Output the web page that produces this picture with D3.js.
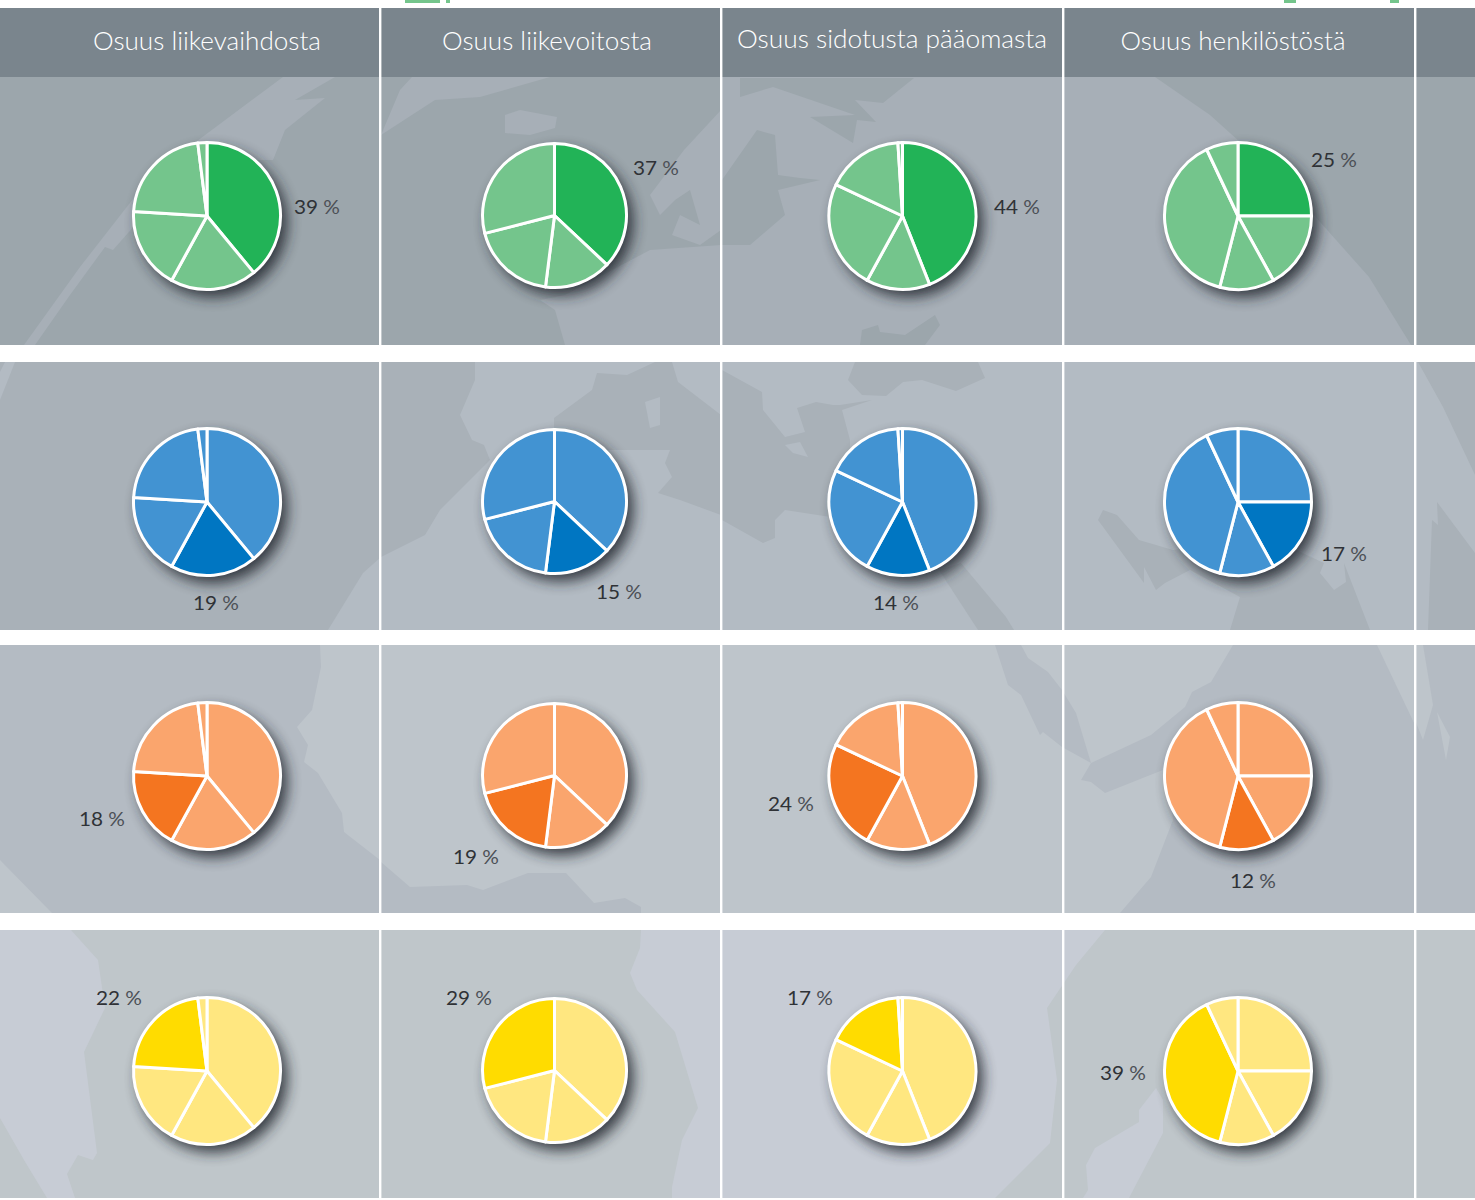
<!DOCTYPE html>
<html><head><meta charset="utf-8">
<script src="https://cdn.jsdelivr.net/npm/d3@7"></script>
<style>html,body{margin:0;padding:0;background:#fff}svg{display:block}</style>
</head><body><svg id="c" width="1475" height="1200"></svg>
<script>
// ---- data ----
const headers = ["Osuus liikevaihdosta","Osuus liikevoitosta","Osuus sidotusta pääomasta","Osuus henkilöstöstä"];
const shares = [
  [39,19,18,22,2],
  [37,15,19,29,0],
  [44,14,24,17,1],
  [25,17,12,39,7]
];
const highlight = ["#22b357","#0076c2","#f47520","#ffdc00"];
const muted     = ["#74c58c","#4293d2","#faa56d","#ffe780"];
// ---- layout ----
const W = 1475;
const colCx = [207,554.5,902.5,1238];
const colR  = [73.5,72,73.5,73.5];
const rowCy = [216,502,776,1071];
const dividers = [380,721,1063,1415];
const headerBox = {y:8,h:69};
const headerPlace = [[207,50,228],[547,50,210],[892,48,310],[1233,50,225]];
const bands = [[8,345],[362,630],[645,913],[930,1198]];
const bandBase  = ["#9ca6ac","#a9b1b8","#b4bbc3","#bfc6ca"];
const bandLight = ["#a7afb7","#b3bbc3","#bec5cb","#c7ccd5"];
// label anchors [x, baseline], by row then column
const labelAt = [
  [[294,213.5],[633,174.5],[994,213.5],[1311,166.5]],
  [[193,609.5],[596,598.5],[873,609.5],[1321,560.5]],
  [[79,825.5],[453,863.5],[768,810.5],[1230,887.5]],
  [[96,1004.5],[446,1004.5],[787,1004.5],[1100,1079.5]]
];
// background map: per band, polygons as [shade, points] with shade 0=base 1=light
const mapShapes = [
 // row 1
 [[1,"24,345 80,267 140,190 189,147 283,77 335,77 295,100 325,98 285,130 273,160 200,160 135,225 113,250 105,247 70,295 35,345"],
  [1,"381,135 400,90 412,77 550,77 480,97 435,100 381,135"],
  [1,"505,115 520,110 557,117 555,128 530,135 505,133"],
  [1,"565,345 555,310 540,300 565,295 650,250 721,245 721,345"],
  [1,"721,110 684,150 650,195 660,215 675,200 690,190 700,225 680,215 672,235 700,245 721,230"],
  [1,"722,77 1155,77 1210,115 1260,160 1312,213 1369,277 1411,345 722,345"],
  [0,"740,97 773,87 855,115 810,117 853,143 857,120 876,122 855,100 883,103 914,78 740,78"],
  [0,"722,180 757,130 775,135 778,175 800,178 820,180 778,190 785,215 750,245 722,245"],
  [0,"860,345 862,330 878,325 880,332 905,335 935,315 940,325 925,345"]],
 // row 2
 [[1,"0,400 15,362 5,362 0,372"],
  [1,"328,630 363,573 381,557 381,630"],
  [1,"381,557 425,535 440,510 470,480 490,460 484,445 472,440 460,415 475,380 475,362 721,362 721,630 381,630"],
  [1,"722,362 1475,362 1475,630 722,630"],
  [0,"554,430 554,418 592,390 597,373 627,375 655,362 672,362 678,382 721,415 721,515 680,500 658,493 672,477 665,463 670,450 600,450"],
  [1,"645,402 660,397 660,425 650,428"],
  [0,"722,370 762,392 763,410 785,437 805,432 797,408 816,402 833,405 840,405 872,400 842,410 850,440 850,520 785,510 775,520 775,538 763,543 722,520"],
  [1,"785,445 800,442 808,457 793,453"],
  [0,"848,380 855,362 978,362 985,378 956,391 922,380 903,382 886,396 862,395"],
  [0,"939,570 961,563 1006,617 1014,630 978,630"],
  [0,"1098,520 1103,510 1117,515 1139,540 1173,550 1250,540 1296,550 1324,563 1320,573 1334,590 1346,582 1344,563 1370,630 1230,630 1240,597 1190,570 1165,583 1156,590 1144,567 1144,583"],
  [0,"1418,362 1475,362 1475,475 1443,407"],
  [0,"1428,630 1432,520 1438,525 1437,502 1475,553 1475,630"]],
 // row 3
 [[1,"320,645 721,645 721,913 381,913 380,860 344,832 342,813 318,773 304,762 308,745 297,727 312,710 321,667"],
  [1,"0,860 52,913 0,913"],
  [0,"381,862 410,887 467,885 483,890 528,873 566,873 594,903 625,898 641,907 641,913 381,913"],
  [1,"722,645 1233,645 1211,682 1192,692 1185,707 1151,735 1091,763 1081,780 1091,782 1105,793 1168,768 1173,820 1151,877 1120,913 722,913"],
  [0,"995,645 1021,645 1028,658 1048,672 1062,690 1076,713 1091,763 1062,747 1043,732 1040,735 1021,695 1008,685"],
  [1,"1377,645 1415,645 1415,725"],
  [1,"1415,645 1423,645 1433,705 1423,740 1415,720"],
  [1,"1437,712 1450,737 1446,760"]],
 // row 4
 [[1,"0,930 71,930 98,960 105,1008 84,1052 97,1153 93,1160 78,1155 67,1174 75,1198 47,1198 24,1160 0,1118"],
  [1,"641,930 640,948 630,973 637,990 675,1032 698,1108 682,1140 672,1187 672,1198 721,1198 721,930"],
  [1,"721,930 1105,930 1076,965 1047,1008 1057,1080 1050,1143 995,1198 721,1198"],
  [1,"1156,1088 1139,1110 1139,1122 1095,1148 1086,1165 1088,1190 1083,1198 1129,1198 1163,1133 1163,1100"]]
];
const topScraps = [[405,35],[446,4],[1284,12],[1390,9]];

const svg = d3.select("#c");
const defs = svg.append("defs");
const f = defs.append("filter").attr("id","sh").attr("x","-40%").attr("y","-40%").attr("width","180%").attr("height","180%");
f.append("feGaussianBlur").attr("stdDeviation",7);

bands.forEach((b,i)=>defs.append("clipPath").attr("id","band"+i)
  .append("rect").attr("x",0).attr("y",b[0]).attr("width",W).attr("height",b[1]-b[0]));

// scraps at the very top
svg.append("g").selectAll("rect").data(topScraps).join("rect")
  .attr("x",d=>d[0]).attr("y",0).attr("width",d=>d[1]).attr("height",3).attr("fill",muted[0]);

// bands and map
bands.forEach((b,i)=>{
  const g = svg.append("g").attr("clip-path",`url(#band${i})`);
  g.append("rect").attr("x",0).attr("y",b[0]).attr("width",W).attr("height",b[1]-b[0]).attr("fill",bandBase[i]);
  g.selectAll("polygon").data(mapShapes[i]).join("polygon")
    .attr("points",d=>d[1]).attr("fill",d=>d[0]?bandLight[i]:bandBase[i]);
});

// header strip
svg.append("rect").attr("x",0).attr("y",headerBox.y).attr("width",W).attr("height",headerBox.h).attr("fill","#7a858d");

// dividers
svg.append("g").selectAll("rect").data(dividers).join("rect")
  .attr("x",d=>d-1).attr("y",headerBox.y).attr("width",2.4).attr("height",1198-headerBox.y).attr("fill","#fff");
// white gaps over dividers
svg.append("g").selectAll("rect").data(d3.pairs(bands)).join("rect")
  .attr("x",0).attr("y",d=>d[0][1]).attr("width",W).attr("height",d=>d[1][0]-d[0][1]).attr("fill","#fff");

// header labels
svg.append("g").selectAll("text").data(headers).join("text")
  .attr("x",(d,i)=>headerPlace[i][0]).attr("y",(d,i)=>headerPlace[i][1])
  .attr("text-anchor","middle").attr("font-family","Lato, 'Open Sans', sans-serif").attr("font-size",25)
  .attr("font-weight",300).attr("fill","#fff")
  .attr("textLength",(d,i)=>headerPlace[i][2]).attr("lengthAdjust","spacingAndGlyphs").text(d=>d);

// pies
const pie = d3.pie().sort(null).value(d=>d).startAngle(0).endAngle(2*Math.PI);
rowCy.forEach((cy,r)=>{
  headers.forEach((h,c)=>{
    const cx = colCx[c], R = colR[c], y = c===1 ? cy-0.5 : cy;
    const arc = d3.arc().innerRadius(0).outerRadius(R);
    const g = svg.append("g").attr("transform",`translate(${cx},${y})`);
    g.append("circle").attr("cx",6).attr("cy",7).attr("r",R+1).attr("fill","#23282d").attr("opacity",0.85).attr("filter","url(#sh)");
    g.append("circle").attr("r",R+0.5).attr("fill","#fff");
    g.selectAll("path").data(pie(shares[c]).filter(d=>d.value>0)).join("path")
      .attr("d",arc)
      .attr("fill",d=>d.index===r?highlight[r]:muted[r])
      .attr("stroke","#fff").attr("stroke-width",3).attr("stroke-linejoin","round");
    const [lx,ly] = labelAt[r][c];
    const t = g.append("text").attr("transform",`translate(${lx-cx},${ly-y})`)
      .attr("font-family","Lato, 'Open Sans', sans-serif").attr("font-size",18.5).attr("font-weight",400).attr("fill","#2f3236")
      .attr("textLength",46).attr("lengthAdjust","spacingAndGlyphs");
    t.append("tspan").text(shares[c][r]+" ");
    t.append("tspan").attr("fill","#4c5056").text("%");
  });
});
</script></body></html>
